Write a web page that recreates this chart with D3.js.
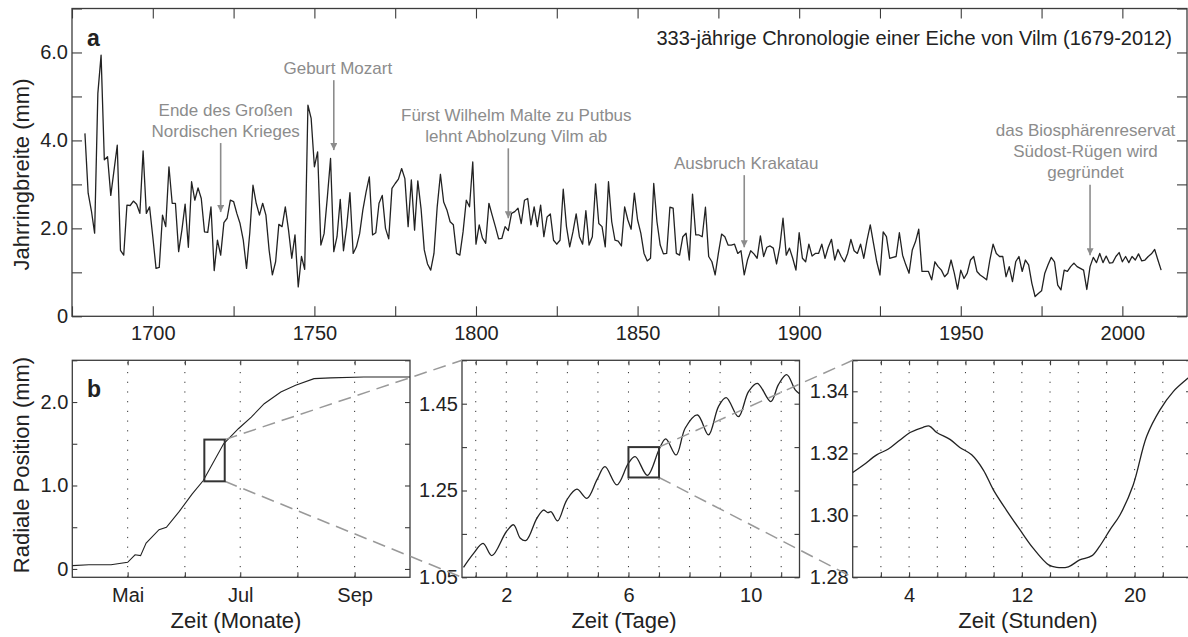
<!DOCTYPE html>
<html>
<head>
<meta charset="utf-8">
<script src="https://cdn.jsdelivr.net/npm/d3@7"></script>
<style>
  body { margin: 0; background: #fff; }
  svg { display: block; font-family: "Liberation Sans", Arial, Helvetica, sans-serif; }
</style>
</head>
<body>
<div id="vis"></div>
<script>
// ---- data: ring widths (mm), one value per year from 1679 to 2012
const START_YEAR = 1679;
const ringWidth = [
  4.16, 2.80, 2.40, 1.89, 5.07, 5.94, 3.56, 3.63, 2.75, 3.32,
  3.89, 1.50, 1.39, 2.53, 2.52, 2.62, 2.55, 2.34, 3.76, 2.34,
  2.49, 1.81, 1.09, 1.11, 2.30, 2.04, 3.40, 2.57, 2.57, 1.47,
  1.96, 2.55, 1.57, 3.06, 2.64, 2.92, 2.68, 1.92, 1.91, 2.49,
  1.04, 1.73, 1.39, 2.13, 2.23, 2.64, 2.61, 2.34, 2.11, 1.73,
  1.09, 1.89, 2.98, 2.57, 2.30, 2.57, 2.30, 1.50, 0.94, 1.24,
  2.09, 2.04, 2.49, 1.96, 1.32, 1.85,
  0.67, 1.36, 1.07, 4.80, 4.50, 3.40, 3.74, 1.62, 1.88, 2.70,
  3.59, 1.47, 1.81, 2.66, 1.49, 2.04, 2.81, 1.43, 1.58, 1.88,
  2.42, 2.83, 3.17, 1.85, 1.90, 2.57, 2.75, 2.00, 1.76, 2.91,
  3.02, 3.12, 3.36, 3.13, 2.04, 3.10, 1.96, 3.08, 2.45, 1.51,
  1.19, 1.05, 1.43, 2.49, 3.23, 2.60, 2.42, 2.15, 2.08, 1.43,
  1.39, 1.92, 2.64, 2.49, 3.51, 1.64, 2.08, 1.78, 1.66, 2.57,
  2.30, 2.04, 1.76, 1.77, 2.04, 1.95, 2.34,
  2.38, 2.46, 2.11, 2.64, 2.68, 2.08, 2.49, 2.04, 2.53, 1.81,
  2.26, 2.33, 1.73, 1.64, 1.73, 2.89, 2.04, 1.58, 1.92, 2.33,
  1.81, 1.64, 2.40, 1.62, 1.81, 3.01, 2.11, 2.04, 1.58, 3.06,
  2.15, 1.73, 1.71, 1.60, 2.49, 2.19, 1.98, 2.80, 2.19, 1.89,
  1.43, 1.26, 1.32, 3.02, 2.15, 1.62, 1.42, 1.43, 2.48, 2.46,
  1.43, 1.39, 1.81, 1.89, 1.28, 2.78, 1.85, 1.85, 1.81, 2.48,
  1.36, 1.24, 0.94, 1.43, 1.87, 1.81, 1.62,
  1.62, 1.64, 1.43, 1.49, 0.94, 1.28, 1.49, 1.42, 1.32, 1.83,
  1.36, 1.57, 1.60, 1.55, 1.19, 1.58, 2.23, 1.39, 1.55, 1.32,
  1.05, 1.90, 1.32, 1.24, 1.64, 1.37, 1.43, 1.43, 1.64, 1.32,
  1.57, 1.75, 1.28, 1.52, 1.36, 1.24, 1.43, 1.75, 1.49, 1.43,
  1.64, 1.32, 1.73, 2.08, 1.66, 1.24, 0.94, 1.92, 1.81, 1.32,
  1.34, 1.36, 1.90, 1.39, 1.17, 0.98, 1.51, 1.70, 1.98, 1.02,
  1.02, 1.02, 0.83, 1.24, 1.13, 1.05, 0.90,
  0.98, 1.28, 0.98, 0.62, 1.05, 0.86, 0.98, 1.28, 1.36, 1.02,
  0.94, 0.89, 0.83, 1.28, 1.64, 1.43, 1.36, 1.36, 0.90, 1.13,
  0.79, 1.24, 1.36, 1.02, 1.28, 1.17, 0.75, 0.45, 0.52, 0.58,
  0.98, 1.17, 1.34, 1.24, 0.71, 0.60, 1.05, 1.02, 1.13, 1.21,
  1.13, 1.09, 1.05, 0.61, 1.13, 1.34, 1.22, 1.43, 1.22, 1.37,
  1.21, 1.22, 1.36, 1.45, 1.24, 1.36, 1.22, 1.36, 1.28, 1.42,
  1.26, 1.28, 1.36, 1.42, 1.52, 1.28, 1.05
];

// historical events
const eventYears = [1721, 1756, 1810, 1883, 1990];
const eventLines = [
  ["Ende des Großen", "Nordischen Krieges"],
  ["Geburt Mozart"],
  ["Fürst Wilhelm Malte zu Putbus", "lehnt Abholzung Vilm ab"],
  ["Ausbruch Krakatau"],
  ["das Biosphärenreservat", "Südost-Rügen wird", "gegründet"]
];

// growing season (radial position in mm)
const seasonDates = ["2012-04-01", "2012-04-10", "2012-04-22", "2012-05-01", "2012-05-05",
  "2012-05-08", "2012-05-11", "2012-05-18", "2012-05-22", "2012-05-29", "2012-06-05",
  "2012-06-11", "2012-06-16", "2012-06-22", "2012-06-30", "2012-07-07", "2012-07-14",
  "2012-07-23", "2012-07-31", "2012-08-10", "2012-08-19", "2012-09-06", "2012-10-01"];
const seasonPos = [0.04, 0.05, 0.05, 0.08, 0.17, 0.16, 0.31, 0.47, 0.50, 0.69, 0.90,
  1.06, 1.26, 1.50, 1.68, 1.82, 1.98, 2.12, 2.20, 2.28, 2.29, 2.30, 2.30];

// eleven days (days after 11 June)
const dayT = [0.6, 0.93, 1.24, 1.53, 2.0, 2.24, 2.46, 2.65, 3.0, 3.22, 3.36, 3.47, 3.68,
  3.98, 4.31, 4.64, 4.97, 5.23, 5.62, 6.0, 6.22, 6.62, 7.0, 7.22, 7.56, 7.86, 8.26, 8.62,
  8.95, 9.2, 9.6, 9.93, 10.22, 10.66, 10.91, 11.18, 11.46, 11.6];
const dayPos = [1.073, 1.105, 1.128, 1.100, 1.155, 1.171, 1.140, 1.135, 1.186, 1.205,
  1.199, 1.201, 1.180, 1.228, 1.253, 1.232, 1.275, 1.305, 1.263, 1.313, 1.328, 1.285,
  1.344, 1.369, 1.332, 1.394, 1.424, 1.378, 1.444, 1.464, 1.420, 1.478, 1.497, 1.455,
  1.494, 1.517, 1.482, 1.473];

// one day (hours of day 6)
const hourT = [0, 0.76, 1.7, 2.5, 3.36, 4.07, 5.0, 5.44, 5.96, 6.9, 7.6, 8.44, 9.27, 9.98,
  10.9, 11.87, 12.8, 13.9, 14.47, 15.3, 16.1, 16.95, 17.5, 18.25, 18.96, 19.9, 20.85,
  21.8, 22.74, 23.78, 24];
const hourPos = [1.3138, 1.3162, 1.3195, 1.3213, 1.3243, 1.3267, 1.3284, 1.3288, 1.3267,
  1.3245, 1.3219, 1.3195, 1.3146, 1.3082, 1.3017, 1.2953, 1.2894, 1.2840, 1.2832, 1.2834,
  1.2856, 1.2869, 1.2899, 1.2953, 1.3001, 1.3098, 1.3254, 1.3340, 1.3399, 1.3442, 1.3450];

// tick labels
const yearLabels = [1700, 1750, 1800, 1850, 1900, 1950, 2000];
const widthLabels = [0, 2, 4, 6];
const monthLabels = { 4: "Mai", 6: "Jul", 8: "Sep" };
const dayLabels = [2, 6, 10];
const hourLabels = [4, 12, 20];
const posLabels1 = [0, 1, 2];
const posLabels2 = [1.05, 1.25, 1.45];
const posLabels3 = [1.28, 1.30, 1.32, 1.34];

// ---- layout
const WIDTH = 1188, HEIGHT = 637;
const FRAME = "#3c3c3c";
const INK = "#222";
const GREY = "#8c8c8c";

const svg = d3.select("#vis").append("svg")
  .attr("width", WIDTH)
  .attr("height", HEIGHT);

const A = { left: 72, right: 1187, top: 8.5, bottom: 316.3 };
const B1 = { left: 72.3, right: 410, top: 360.3, bottom: 577.3 };
const B2 = { left: 462, right: 799.5, top: 360.3, bottom: 577.3 };
const B3 = { left: 852.7, right: 1191, top: 360.3, bottom: 577.3 };

// arrows: [top of arrow, tip] in mm, text offset in px
const eventLayout = [
  { top: 3.94, tip: 2.37, dx: 5 },
  { top: 5.37, tip: 3.78, dx: 4 },
  { top: 3.82, tip: 2.23, dx: 8 },
  { top: 3.21, tip: 1.57, dx: 2 },
  { top: 2.99, tip: 1.39, dx: -4.5 }
];

const ZOOM_DAY0 = new Date(2012, 5, 11);
const DAY_DOMAIN = [0.55, 11.6];
const HOUR_DAY = 6;

const xA = d3.scaleLinear().domain([1675, 2020]).range([A.left, A.right]);
const yA = d3.scaleLinear().domain([0, 7]).range([A.bottom, A.top]);

const xB1 = d3.scaleTime().domain([new Date(2012, 3, 1), new Date(2012, 9, 1)]).range([B1.left, B1.right]);
const yB1 = d3.scaleLinear().domain([-0.1, 2.5]).range([B1.bottom, B1.top]);
const xB2 = d3.scaleLinear().domain(DAY_DOMAIN).range([B2.left, B2.right]);
const yB2 = d3.scaleLinear().domain([1.05, 1.55]).range([B2.bottom, B2.top]);
const xB3 = d3.scaleLinear().domain([0, 24]).range([B3.left, B3.right]);
const yB3 = d3.scaleLinear().domain([1.28, 1.35]).range([B3.bottom, B3.top]);

const dayToDate = d => new Date(ZOOM_DAY0.getTime() + d * 864e5);

function styleAxis(sel) {
  sel.select(".domain").remove();
  sel.selectAll("line").attr("stroke", FRAME).attr("stroke-width", 1.1);
  sel.selectAll("text").attr("font-size", 20).attr("fill", INK);
  sel.attr("font-family", null).attr("font-size", null);
}

// MATLAB-like box with inward ticks on all four sides
function boxAxes(g, box, x, y, o) {
  const blank = () => "";
  g.append("g").attr("transform", `translate(0,${box.bottom})`)
    .call(d3.axisBottom(x).tickValues(o.xTicks).tickSizeInner(-o.tick).tickSizeOuter(0)
      .tickPadding(o.xPad).tickFormat(o.xFmt))
    .call(styleAxis);
  g.append("g").attr("transform", `translate(0,${box.top})`)
    .call(d3.axisTop(x).tickValues(o.xTicks).tickSizeInner(-o.tick).tickSizeOuter(0).tickFormat(blank))
    .call(styleAxis);
  g.append("g").attr("transform", `translate(${box.left},0)`)
    .call(d3.axisLeft(y).tickValues(o.yTicks).tickSizeInner(-o.tick).tickSizeOuter(0)
      .tickPadding(4).tickFormat(o.yFmt))
    .call(styleAxis);
  g.append("g").attr("transform", `translate(${box.right},0)`)
    .call(d3.axisRight(y).tickValues(o.yTicks).tickSizeInner(-o.tick).tickSizeOuter(0).tickFormat(blank))
    .call(styleAxis);
  g.append("rect")
    .attr("x", box.left).attr("y", box.top)
    .attr("width", box.right - box.left).attr("height", box.bottom - box.top)
    .attr("fill", "none").attr("stroke", FRAME).attr("stroke-width", 1.3);
}

function grid(g, box, x, values) {
  g.selectAll("line.grid").data(values).enter().append("line")
    .attr("class", "grid")
    .attr("x1", d => x(d)).attr("x2", d => x(d))
    .attr("y1", box.top + 2).attr("y2", box.bottom)
    .attr("stroke", "#333").attr("stroke-width", 1)
    .attr("stroke-dasharray", "1.2,8.5");
}

const near = (arr, v) => arr.some(a => Math.abs(a - v) < 1e-6);

// ---- panel a
const gA = svg.append("g");
boxAxes(gA, A, xA, yA, {
  tick: 10, xPad: 9.5,
  xTicks: d3.range(1675, 2021, 25),
  xFmt: d => (yearLabels.includes(d) ? d : ""),
  yTicks: d3.range(0, 8),
  yFmt: d => (widthLabels.includes(d) ? (d === 0 ? "0" : d.toFixed(1)) : "")
});

gA.append("path")
  .datum(ringWidth)
  .attr("fill", "none")
  .attr("stroke", INK)
  .attr("stroke-width", 1.3)
  .attr("stroke-linejoin", "round")
  .attr("d", d3.line().x((d, i) => xA(START_YEAR + i)).y(d => yA(d)));

gA.append("text").attr("x", 87).attr("y", 45.5)
  .attr("font-size", 23).attr("font-weight", "bold").attr("fill", INK).text("a");

gA.append("text").attr("x", 1172).attr("y", 45)
  .attr("text-anchor", "end").attr("font-size", 20).attr("fill", INK)
  .text("333-jährige Chronologie einer Eiche von Vilm (" + START_YEAR + "-" + (START_YEAR + ringWidth.length - 1) + ")");

gA.append("text")
  .attr("transform", `translate(29,174.5) rotate(-90)`)
  .attr("text-anchor", "middle").attr("font-size", 22).attr("fill", INK)
  .text("Jahrringbreite (mm)");

// annotations
const defs = svg.append("defs");
defs.append("marker")
  .attr("id", "head").attr("viewBox", "0 0 10 10")
  .attr("refX", 10).attr("refY", 5)
  .attr("markerWidth", 10).attr("markerHeight", 7)
  .attr("markerUnits", "userSpaceOnUse")
  .attr("orient", "auto")
  .append("path").attr("d", "M0,0L10,5L0,10Z").attr("fill", GREY);

eventYears.forEach((yr, i) => {
  const lay = eventLayout[i];
  const x = xA(yr);
  const yTop = yA(lay.top);
  gA.append("line")
    .attr("x1", x).attr("x2", x)
    .attr("y1", yTop).attr("y2", yA(lay.tip))
    .attr("stroke", GREY).attr("stroke-width", 1.6)
    .attr("marker-end", "url(#head)");
  const lines = eventLines[i];
  lines.forEach((t, j) => {
    gA.append("text")
      .attr("x", x + lay.dx)
      .attr("y", yTop - 6.5 - (lines.length - 1 - j) * 21)
      .attr("text-anchor", "middle")
      .attr("font-size", 17)
      .attr("fill", GREY)
      .text(t);
  });
});

// ---- panel b, left (season)
const gB1 = svg.append("g");
grid(gB1, B1, xB1, d3.timeMonth.range(new Date(2012, 4, 1), new Date(2012, 8, 2)));
boxAxes(gB1, B1, xB1, yB1, {
  tick: 5, xPad: 10.2,
  xTicks: d3.timeMonth.range(new Date(2012, 4, 1), new Date(2012, 8, 2)),
  xFmt: d => monthLabels[d.getMonth()] || "",
  yTicks: d3.range(0, 2.51, 0.5),
  yFmt: d => (near(posLabels1, d) ? (d === 0 ? "0" : d.toFixed(1)) : "")
});
gB1.append("path")
  .datum(seasonDates.map((d, i) => [new Date(d + "T00:00:00"), seasonPos[i]]))
  .attr("fill", "none").attr("stroke", INK).attr("stroke-width", 1.1)
  .attr("d", d3.line().x(d => xB1(d[0])).y(d => yB1(d[1])));

gB1.append("text").attr("x", 87).attr("y", 396.5)
  .attr("font-size", 23).attr("font-weight", "bold").attr("fill", INK).text("b");
gB1.append("text").attr("x", 236).attr("y", 628)
  .attr("text-anchor", "middle").attr("font-size", 22).attr("fill", INK).text("Zeit (Monate)");
gB1.append("text")
  .attr("transform", `translate(29,465) rotate(-90)`)
  .attr("text-anchor", "middle").attr("font-size", 22).attr("fill", INK)
  .text("Radiale Position (mm)");

// ---- panel b, middle (days)
const gB2 = svg.append("g");
grid(gB2, B2, xB2, d3.range(1, 12));
boxAxes(gB2, B2, xB2, yB2, {
  tick: 5, xPad: 10.2,
  xTicks: d3.range(1, 12),
  xFmt: d => (dayLabels.includes(d) ? d : ""),
  yTicks: d3.range(0, 6).map(i => 1.05 + 0.1 * i),
  yFmt: d => (near(posLabels2, d) ? d.toFixed(2) : "")
});
gB2.append("path")
  .datum(dayT.map((d, i) => [d, dayPos[i]]))
  .attr("fill", "none").attr("stroke", INK).attr("stroke-width", 1.3)
  .attr("d", d3.line().curve(d3.curveCatmullRom.alpha(0.5)).x(d => xB2(d[0])).y(d => yB2(d[1])));
gB2.append("text").attr("x", 624).attr("y", 628)
  .attr("text-anchor", "middle").attr("font-size", 22).attr("fill", INK).text("Zeit (Tage)");

// ---- panel b, right (hours)
const gB3 = svg.append("g");
grid(gB3, B3, xB3, d3.range(2, 24, 2));
boxAxes(gB3, B3, xB3, yB3, {
  tick: 5, xPad: 10.2,
  xTicks: d3.range(2, 24, 2),
  xFmt: d => (hourLabels.includes(d) ? d : ""),
  yTicks: d3.range(0, 8).map(i => 1.28 + 0.01 * i),
  yFmt: d => (near(posLabels3, d) ? d.toFixed(2) : "")
});
gB3.append("path")
  .datum(hourT.map((d, i) => [d, hourPos[i]]))
  .attr("fill", "none").attr("stroke", INK).attr("stroke-width", 1.3)
  .attr("d", d3.line().curve(d3.curveCatmullRom.alpha(0.5)).x(d => xB3(d[0])).y(d => yB3(d[1])));
gB3.append("text").attr("x", 1028).attr("y", 628)
  .attr("text-anchor", "middle").attr("font-size", 22).attr("fill", INK).text("Zeit (Stunden)");

// ---- zoom boxes and connectors
const r1 = {
  x0: xB1(dayToDate(DAY_DOMAIN[0])), x1: xB1(dayToDate(DAY_DOMAIN[1])),
  y0: yB1(yB2.domain()[1]), y1: yB1(yB2.domain()[0])
};
const r2 = {
  x0: xB2(HOUR_DAY), x1: xB2(HOUR_DAY + 1),
  y0: yB2(yB3.domain()[1]), y1: yB2(yB3.domain()[0])
};
const gZ = svg.append("g");
[[r1, B2], [r2, B3]].forEach(([r, box]) => {
  gZ.append("line").attr("x1", r.x1).attr("y1", r.y0).attr("x2", box.left).attr("y2", box.top);
  gZ.append("line").attr("x1", r.x1).attr("y1", r.y1).attr("x2", box.left).attr("y2", box.bottom);
});
gZ.selectAll("line")
  .attr("stroke", "#999").attr("stroke-width", 1.5).attr("stroke-dasharray", "13,7");
[r1, r2].forEach(r => {
  gZ.append("rect")
    .attr("x", r.x0).attr("y", r.y0)
    .attr("width", r.x1 - r.x0).attr("height", r.y1 - r.y0)
    .attr("fill", "none").attr("stroke", "#333").attr("stroke-width", 2);
});
</script>
</body>
</html>
